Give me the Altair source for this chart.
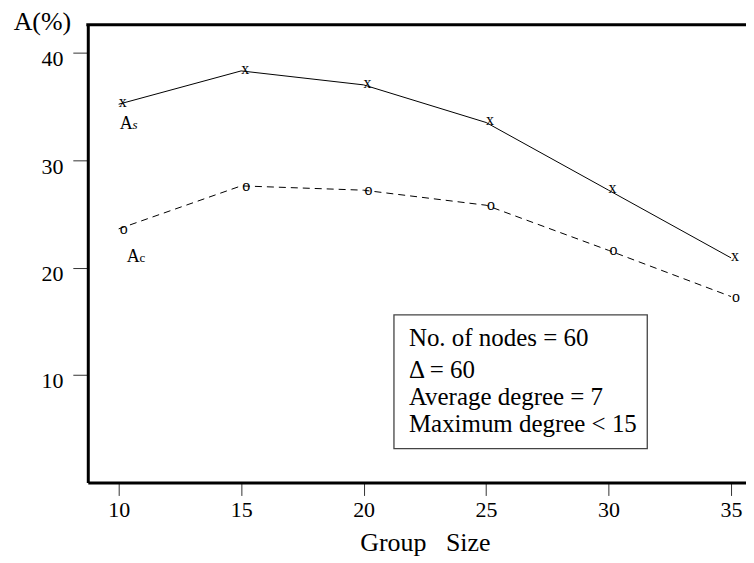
import altair as alt
import pandas as pd

# ---- data ----
group_size = [10, 15, 20, 25, 30, 35]
a_s = [35.2, 38.3, 37.0, 33.5, 27.2, 20.9]
a_c = [23.6, 27.6, 27.2, 25.8, 21.6, 17.3]
x_ticks = [10, 15, 20, 25, 30, 35]
y_ticks = [10, 20, 30, 40]
info_lines = ["No. of nodes = 60", "Δ = 60", "Average degree = 7", "Maximum degree < 15"]

df = pd.DataFrame({"size": group_size, "As": a_s, "Ac": a_c})
one = pd.DataFrame({"k": [0]})

FONT = "Liberation Serif, Times New Roman, serif"
W, H = 660, 459

xs = alt.Scale(domain=[8.74, 35.61], nice=False, zero=False)
ys = alt.Scale(domain=[0, 42.6], nice=False, zero=False)

xaxis = alt.Axis(values=x_ticks, title="Group\u00a0\u00a0\u00a0Size", grid=False,
                 domain=True, domainWidth=3, domainColor="black",
                 tickSize=13, tickColor="#333", tickWidth=1,
                 labelFont=FONT, labelFontSize=22, labelColor="black",
                 labelFontWeight="normal",
                 labelPadding=4, labelFlush=False, labelOverlap=False,
                 titleFont=FONT, titleFontSize=26, titleFontWeight="normal",
                 titleColor="black", titleX=338, titleY=60,
                 titleAlign="center", titleBaseline="middle")
yaxis = alt.Axis(values=y_ticks, title="A(%)", grid=False,
                 domain=True, domainWidth=3, domainColor="black",
                 tickSize=15, tickColor="#333", tickWidth=1,
                 labelFont=FONT, labelFontSize=22, labelColor="black",
                 labelFontWeight="normal",
                 labelPadding=10, labelBaseline="middle", labelOffset=6,
                 labelOverlap=False,
                 titleFont=FONT, titleFontSize=26, titleFontWeight="normal",
                 titleColor="black", titleAngle=0, titleX=-46, titleY=-3,
                 titleAlign="center", titleBaseline="middle")

X = alt.X("size:Q", scale=xs, axis=xaxis)
YS = alt.Y("As:Q", scale=ys, axis=yaxis)
YC = alt.Y("Ac:Q", scale=ys, axis=yaxis)

base = alt.Chart(df)

line_s = base.mark_line(color="black", strokeWidth=1).encode(x=X, y=YS)
line_c = base.mark_line(color="black", strokeWidth=1, strokeDash=[7, 5]).encode(x=X, y=YC)

mk_s = base.mark_text(text="x", font=FONT, fontSize=16, color="black", fontWeight="normal",
                      dx=4, dy=-2, baseline="middle").encode(x=X, y=YS)
mk_c = base.mark_text(text="o", font=FONT, fontSize=16, color="black", fontWeight="normal",
                      dx=5, dy=0, baseline="middle").encode(x=X, y=YC)

first = base.transform_filter(alt.datum.size == 10)
lab_s1 = first.mark_text(text="A", font=FONT, fontSize=18, color="black", fontWeight="normal",
                         align="left", baseline="alphabetic", dx=1, dy=25).encode(x=X, y=YS)
lab_s2 = first.mark_text(text="s", font=FONT, fontSize=13, fontStyle="italic", color="black",
                         fontWeight="normal",
                         align="left", baseline="alphabetic", dx=14, dy=25).encode(x=X, y=YS)
lab_c1 = first.mark_text(text="A", font=FONT, fontSize=18, color="black", fontWeight="normal",
                         align="left", baseline="alphabetic", dx=8, dy=33).encode(x=X, y=YC)
lab_c2 = first.mark_text(text="c", font=FONT, fontSize=13, color="black", fontWeight="normal",
                         align="left", baseline="alphabetic", dx=21, dy=33).encode(x=X, y=YC)

top_border = alt.Chart(one).mark_rule(color="black", strokeWidth=3).encode(
    x=alt.value(-1.5), x2=alt.value(W), y=alt.value(0))

info_box = alt.Chart(one).mark_rect(fill="white", stroke="#444", strokeWidth=1.3).encode(
    x=alt.value(307), x2=alt.value(561), y=alt.value(291), y2=alt.value(425))

baselines = [322, 354, 381, 408]
info_layers = [
    alt.Chart(pd.DataFrame({"t": [txt]})).mark_text(
        font=FONT, fontSize=25, fontWeight="normal",
        color="black", align="left", baseline="alphabetic").encode(
        text="t:N", x=alt.value(322), y=alt.value(b))
    for txt, b in zip(info_lines, baselines)
]

chart = alt.layer(
    line_s, line_c, mk_s, mk_c, lab_s1, lab_s2, lab_c1, lab_c2,
    top_border, info_box, *info_layers
).properties(
    width=W, height=H,
    autosize=alt.AutoSizeParams(type="none"),
    padding={"left": 80, "top": 16, "right": 0, "bottom": 80},
    background="white",
).configure_view(stroke=None)

chart.save("out.html", embed_options={"renderer": "svg", "actions": False})
